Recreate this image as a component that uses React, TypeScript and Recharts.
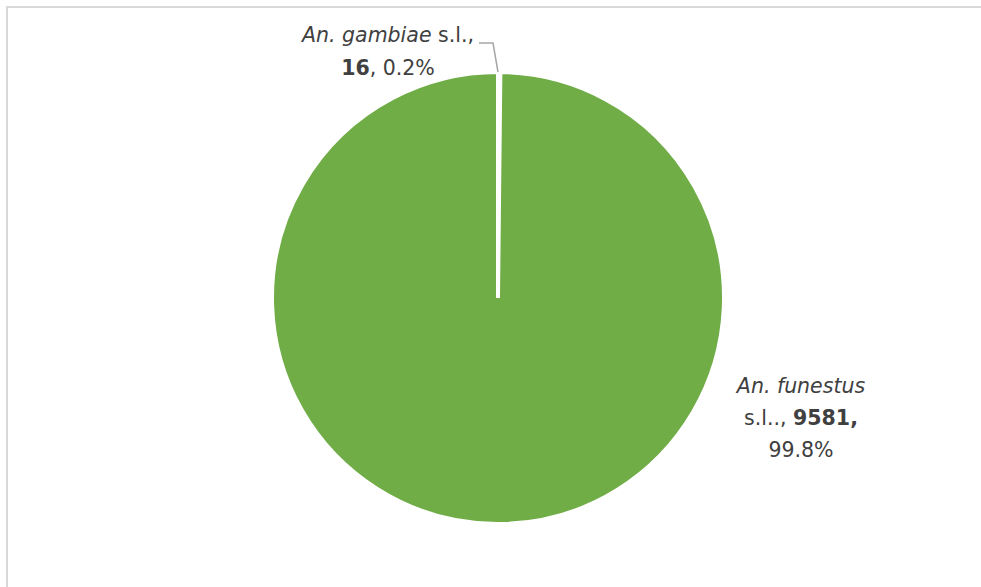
import { Pie, PieChart, Cell } from "recharts";

// Mosquito species composition (counts per species complex)
const species = ["An. gambiae", "An. funestus"];
const suffixes = ["s.l.,", "s.l..,"];
const counts = [16, 9581];
const percents = ["0.2%", "99.8%"];
const COLORS = ["#FFFFFF", "#70AD47"];

const data = species.map((name, i) => ({ name, value: counts[i] }));

const FONT = "'DejaVu Sans', Calibri, sans-serif";
const TEXT = "#404040";
const FS = 20.5;

function renderLabel(props: any) {
  const { cx, cy, index } = props;
  if (index === 0) {
    const x = cx - 110;
    return (
      <g>
        <path
          d={`M${cx - 19},${cy - 255} L${cx - 5},${cy - 255} L${cx},${cy - 226}`}
          fill="none"
          stroke="#a6a6a6"
          strokeWidth={1.5}
        />
        <text x={x} y={cy - 256} textAnchor="middle" fill={TEXT} fontSize={FS} fontFamily={FONT}>
          <tspan fontStyle="italic">{species[0]}</tspan>
          <tspan> {suffixes[0]}</tspan>
        </text>
        <text x={x} y={cy - 223} textAnchor="middle" fill={TEXT} fontSize={FS} fontFamily={FONT}>
          <tspan fontWeight="bold">{counts[0]}</tspan>
          <tspan>, {percents[0]}</tspan>
        </text>
      </g>
    );
  }
  const x = cx + 303;
  return (
    <g>
      <text x={x} y={cy + 95} textAnchor="middle" fill={TEXT} fontSize={FS} fontFamily={FONT} fontStyle="italic">
        {species[1]}
      </text>
      <text x={x} y={cy + 127} textAnchor="middle" fill={TEXT} fontSize={FS} fontFamily={FONT}>
        <tspan>{suffixes[1]} </tspan>
        <tspan fontWeight="bold">{counts[1]},</tspan>
      </text>
      <text x={x} y={cy + 159} textAnchor="middle" fill={TEXT} fontSize={FS} fontFamily={FONT}>
        {percents[1]}
      </text>
    </g>
  );
}

export default function App() {
  return (
    <div style={{ position: "fixed", left: 0, top: 0, width: 981, height: 587, overflow: "hidden", background: "#fff" }}>
      <div
        style={{
          position: "absolute",
          left: 6,
          top: 6,
          width: 1000,
          height: 620,
          border: "2px solid #d9d9d9",
          boxSizing: "border-box",
        }}
      />
      <div style={{ position: "absolute", left: 0, top: 0 }}>
        <PieChart width={981} height={587} margin={{ top: 0, right: 0, bottom: 0, left: 0 }}>
          <Pie
            data={data}
            dataKey="value"
            nameKey="name"
            cx={498}
            cy={298}
            outerRadius={226}
            startAngle={90}
            endAngle={-270}
            stroke="#FFFFFF"
            strokeWidth={4}
            label={renderLabel}
            labelLine={false}
            isAnimationActive={false}
          >
            {data.map((d, i) => (
              <Cell key={d.name} fill={COLORS[i]} />
            ))}
          </Pie>
        </PieChart>
      </div>
    </div>
  );
}
